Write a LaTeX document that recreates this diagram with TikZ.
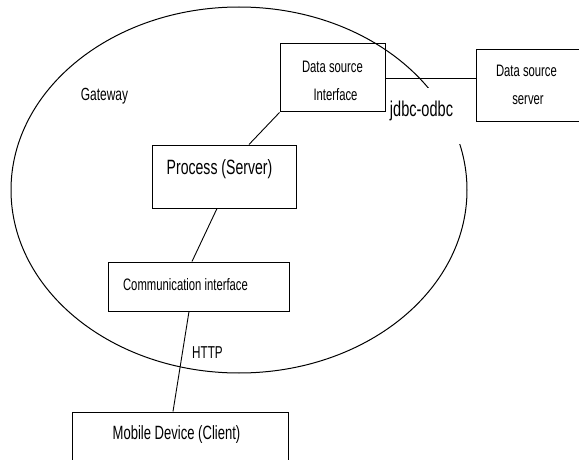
\documentclass[tikz,border=0pt]{standalone}
\usepackage{fontspec}
\setmainfont{Liberation Sans}[FakeStretch=0.68]
\usetikzlibrary{shapes.geometric}
\tikzset{
  box/.style={draw, line width=1pt, rectangle, inner sep=0pt},
  txt/.style={inner sep=0pt, anchor=base, font=\fontsize{#1}{#1}\selectfont},
  conn/.style={draw, line width=0.9pt},
}
\begin{document}
\begin{tikzpicture}[x=1pt,y=-1pt]
\clip (0,0) rectangle (579,460);
\fill[white] (0,0) rectangle (579,460);
% gateway ellipse
\node[ellipse, draw, line width=1pt, minimum width=456pt, minimum height=366pt, inner sep=0pt] (gw) at (239,190) {};
% opaque background of the jdbc-odbc label (hides part of the ellipse)
\fill[white] (400,88.5) rectangle (472,143.5);
% boxes
\node[box, minimum width=105pt, minimum height=68pt] (dsi) at (332.5,78) {};
\node[box, minimum width=114pt, minimum height=72pt] (dss) at (533,86) {};
\node[box, minimum width=144pt, minimum height=63pt] (proc) at (224,176.5) {};
\node[box, minimum width=181pt, minimum height=49pt] (comm) at (198.5,286.5) {};
\node[box, minimum width=216pt, minimum height=58pt] (mob) at (180,441) {};
% texts
\node[txt=16.6] (dsi1) at (332.5,73) {Data source};
\node[txt=16.6] (dsi2) at (335.5,101) {Interface};
\node[txt=16.6] (dss1) at (526.5,77) {Data source};
\node[txt=16.6] (dss2) at (528,105) {server};
\node[txt=17.6] (gwt) at (104.5,101) {Gateway};
\node[txt=20.7] (proct) at (219.5,174) {Process (Server)};
\node[txt=16.6] (commt) at (185.5,290) {Communication interface};
\node[txt=17.2] (http) at (207.5,358) {HTTP};
\node[txt=19.2] (mobt) at (176.5,439) {Mobile Device (Client)};
\node[txt=21.4] (jdbc) at (421.5,117) {jdbc-odbc};
% connectors
\draw[conn] (dsi.east) -- (dsi.east -| dss.west);
\draw[conn] (dsi.south west) -- ([xshift=25pt]proc.north);
\draw[conn] ([xshift=-7pt]proc.south) -- ([xshift=-6.5pt]comm.north);
\draw[conn] ([xshift=-9.5pt]comm.south) -- ([xshift=-7pt]mob.north);
\end{tikzpicture}
\end{document}
